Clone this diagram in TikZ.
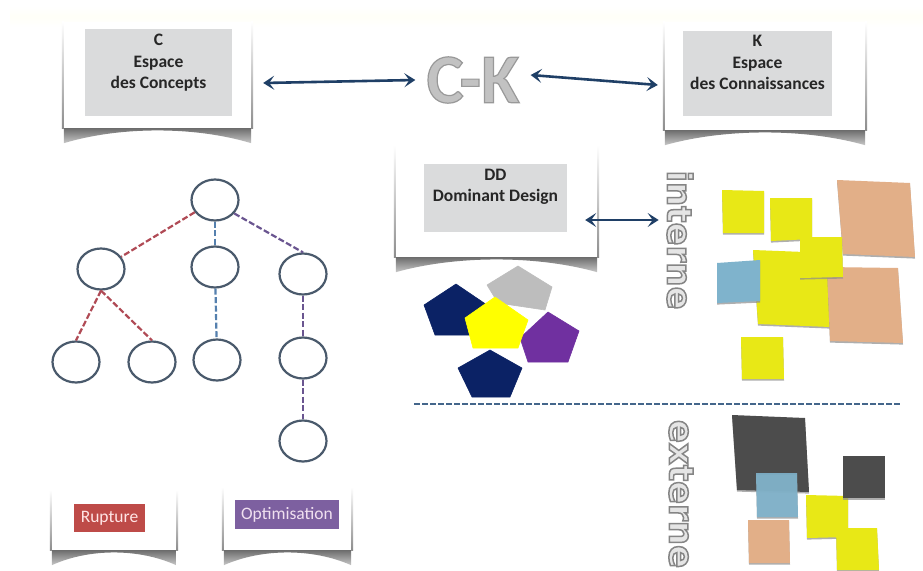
\documentclass[tikz,border=0pt]{standalone}
\usepackage{fontspec}
\usetikzlibrary{arrows.meta,calc,shapes.geometric}
\setmainfont{Carlito}
\newfontfamily\hollowfont{DejaVu Sans}
\newcommand{\outlined}[4]{\special{pdf:code q 2 Tr #1 w #2 RG #3 rg}#4\special{pdf:code Q}}
\definecolor{navyarrow}{HTML}{1F3F66}
\definecolor{boxgray}{HTML}{DADBDC}
\definecolor{ruptred}{HTML}{BE4B48}
\definecolor{optpurple}{HTML}{7D60A0}
\definecolor{treeline}{HTML}{4A5A6C}
\definecolor{dashred}{HTML}{B04A55}
\definecolor{dashblue}{HTML}{5580AE}
\definecolor{dashpurple}{HTML}{6A5590}
\definecolor{noteyellow}{HTML}{E8E816}
\definecolor{notepeach}{HTML}{E2AF88}
\definecolor{noteblue}{HTML}{7FB3CC}
\definecolor{notedark}{HTML}{4C4C4C}
\definecolor{pentnavy}{HTML}{0B2265}
\definecolor{pentgray}{HTML}{BDBDBD}
\definecolor{pentyellow}{HTML}{FFFF00}
\definecolor{pentpurple}{HTML}{7030A0}
\tikzset{
  x=1pt,y=-1pt,
  cardbox/.style={rectangle,fill=white,draw=none,inner sep=0pt},
  graybox/.style={rectangle,fill=boxgray,inner sep=0pt},
  cardtext/.style={align=center,font=\bfseries\fontsize{17.5}{21.5}\selectfont,text=black!85,inner sep=0pt},
  legendtext/.style={rectangle,inner sep=0pt,font=\fontsize{17.5}{20}\selectfont},
  treenode/.style={ellipse,draw=treeline,line width=2.2pt,fill=white,minimum width=47pt,minimum height=41pt,inner sep=0pt},
  linkred/.style={draw=dashred,line width=2.2pt,dash pattern=on 6pt off 2.5pt},
  linkblue/.style={draw=dashblue,line width=2.2pt,dash pattern=on 6pt off 2.5pt},
  linkpurple/.style={draw=dashpurple,line width=2.2pt,dash pattern=on 6pt off 2.5pt},
  dblarrow/.style={draw=navyarrow,line width=2.6pt,{Stealth[length=11pt,width=14pt,inset=5pt]}-{Stealth[length=11pt,width=14pt,inset=5pt]}},
  note/.style={fill=#1,draw=none,line join=round,
    preaction={fill=black!45,fill opacity=.7,transform canvas={yshift=-1.6pt}}},
  pent/.style={fill=#1,draw=#1,line width=.6pt,line join=round},
}
\newcommand{\cardshadow}[2][15]{%
  \shade[top color=black!62,bottom color=black!22]
    (#2.south west) -- ++(0,#1)
    .. controls ($(#2.south west)!.3!(#2.south east)+(0,-2)$) and ($(#2.south west)!.7!(#2.south east)+(0,-2)$)
    .. ($(#2.south east)+(0,#1)$) -- (#2.south east) -- cycle;
  \shade[top color=white,bottom color=black!45] ($(#2.north west)+(-2,0)$) rectangle (#2.south west);
  \shade[top color=white,bottom color=black!45] ($(#2.north east)+(2,0)$) rectangle (#2.south east);
}
\begin{document}
\begin{tikzpicture}
\useasboundingbox (0,0) rectangle (923,570);
\fill[white] (0,0) rectangle (923,570);
\shade[top color=white,bottom color=white,middle color=yellow!3] (10,6) rectangle (923,27);

% cards
\node[cardbox,minimum width=187pt,minimum height=106pt] (ccard) at (157.5,75) {};
\node[cardbox,minimum width=200pt,minimum height=108pt] (kcard) at (765,76) {};
\node[cardbox,minimum width=201pt,minimum height=112pt] (ddcard) at (496.5,201) {};
\node[cardbox,minimum width=124pt,minimum height=60pt] (rcard) at (114,520) {};
\node[cardbox,minimum width=127pt,minimum height=63pt] (ocard) at (287.5,518.5) {};
\cardshadow{ccard}\cardshadow{kcard}\cardshadow{ddcard}\cardshadow{rcard}\cardshadow{ocard}

\node[graybox,minimum width=147pt,minimum height=87pt] (cbox) at (158.5,72.5) {};
\node[graybox,minimum width=149pt,minimum height=85pt] (kbox) at (757.5,73.5) {};
\node[graybox,minimum width=143pt,minimum height=68pt] (ddbox) at (495.5,198) {};
\node[cardtext] (ctext) at (158.5,63) {C\\Espace\\des Concepts};
\node[cardtext] (ktext) at (757.5,62.5) {K\\Espace\\des Connaissances};
\node[cardtext] (ddtext) at (495.5,187) {DD\\Dominant Design};
\node[legendtext,fill=ruptred,text=red!10!white,minimum width=71pt,minimum height=28pt] (rupture) at (109.5,518) {Rupture};
\node[legendtext,fill=optpurple,text=violet!12!white,minimum width=104pt,minimum height=29pt] (optim) at (287,514.5) {Optimisation};

% C-K title
\node[inner sep=0pt,font=\bfseries\fontsize{70}{70}\selectfont] (ck) at (473,80)
  {\outlined{1.2}{0.60 0.60 0.60}{0.76 0.76 0.76}{C-K}};

% side labels
\node[inner sep=0pt,rotate=-90,font=\hollowfont\bfseries\fontsize{34}{34}\selectfont] (interne) at (680,240)
  {\outlined{1.5}{0.52 0.52 0.52}{0.90 0.90 0.90}{interne}};
\node[inner sep=0pt,rotate=-90,font=\hollowfont\bfseries\fontsize{34}{34}\selectfont] (externe) at (681,494)
  {\outlined{1.5}{0.52 0.52 0.52}{0.90 0.90 0.90}{externe}};

% arrows
\draw[dblarrow] ([shift={(12,8)}]ccard.east) -- ([shift={(-11,0)}]ck.west);
\draw[dblarrow] ([shift={(11,-5)}]ck.east) -- ([shift={(-7,9)}]kcard.west);
\draw[dblarrow] ([shift={(-12,19)}]ddcard.east) -- ([shift={(-8,-20)}]interne.south);

% tree
\node[treenode] (root) at (215,200) {};
\node[treenode] (n1) at (101,269) {};
\node[treenode] (n2) at (215,267) {};
\node[treenode] (n3) at (303,274) {};
\node[treenode] (l1) at (76,362) {};
\node[treenode] (l2) at (152,362) {};
\node[treenode] (l3) at (217,360) {};
\node[treenode] (l4) at (303,358) {};
\node[treenode] (l5) at (303,441) {};
\draw[linkred] (root) -- (n1);
\draw[linkred] (n1.south) -- (l1.north);
\draw[linkred] (n1.south) -- (l2.north);
\draw[linkblue] (root) -- (n2);
\draw[linkblue] (n2) -- (l3);
\draw[linkpurple] (root.-35) -- (n3.north);
\draw[linkpurple] (n3) -- (l4);
\draw[linkpurple] (l4) -- (l5);

% pentagons
\path[pent=pentgray] (518,266) -- (552,287) -- (545,310) -- (498,303) -- (487,285) -- cycle;
\path[pent=pentnavy] (456,284) -- (487,305) -- (473,335) -- (435,335) -- (424,305) -- cycle;
\path[pent=pentpurple] (548,312) -- (579,331) -- (568,362) -- (528,362) -- (520,338) -- cycle;
\path[pent=pentnavy] (490,350) -- (522,368) -- (510,397) -- (472,397) -- (458,368) -- cycle;
\path[pent=pentyellow] (495,297) -- (528,320) -- (518,348) -- (473,348) -- (465,318) -- cycle;

% dashed separator
\coordinate (sepl) at (414,404);
\coordinate (sepr) at (901,404);
\draw[draw=dashblue!80!black,line width=2pt,dash pattern=on 5.5pt off 2.5pt] (sepl) -- (sepr);

% interne notes
\path[note=noteyellow] (753,250) -- (830,253) -- (830,327) -- (758,324) -- cycle;
\path[note=noteblue] (717,263) -- (760,260) -- (760,301) -- (717,303) -- cycle;
\path[note=notepeach] (837,180) -- (910,183) -- (915,257) -- (843,254) -- cycle;
\path[note=notepeach] (827,267) -- (898,268) -- (903,343) -- (830,341) -- cycle;
\path[note=noteyellow] (722,190) -- (764,191) -- (764,233) -- (723,233) -- cycle;
\path[note=noteyellow] (770,198) -- (812,198) -- (812,239) -- (771,241) -- cycle;
\path[note=noteyellow] (800,237) -- (842,237) -- (843,277) -- (800,278) -- cycle;
\path[note=noteyellow] (741,337) -- (783,337) -- (784,379) -- (742,379) -- cycle;

% externe notes
\path[note=notedark] (732,415) -- (805,418) -- (809,492) -- (737,490) -- cycle;
\path[note=noteblue,fill opacity=.9] (756,473) -- (797,473) -- (798,517) -- (757,517) -- cycle;
\path[note=notepeach] (748,520) -- (789,520) -- (790,563) -- (749,563) -- cycle;
\path[note=noteyellow] (806,495) -- (848,496) -- (848,537) -- (807,538) -- cycle;
\path[note=notedark] (843,456) -- (885,456) -- (885,498) -- (843,498) -- cycle;
\path[note=noteyellow] (836,528) -- (877,528) -- (879,570) -- (837,570) -- cycle;
\end{tikzpicture}
\end{document}
